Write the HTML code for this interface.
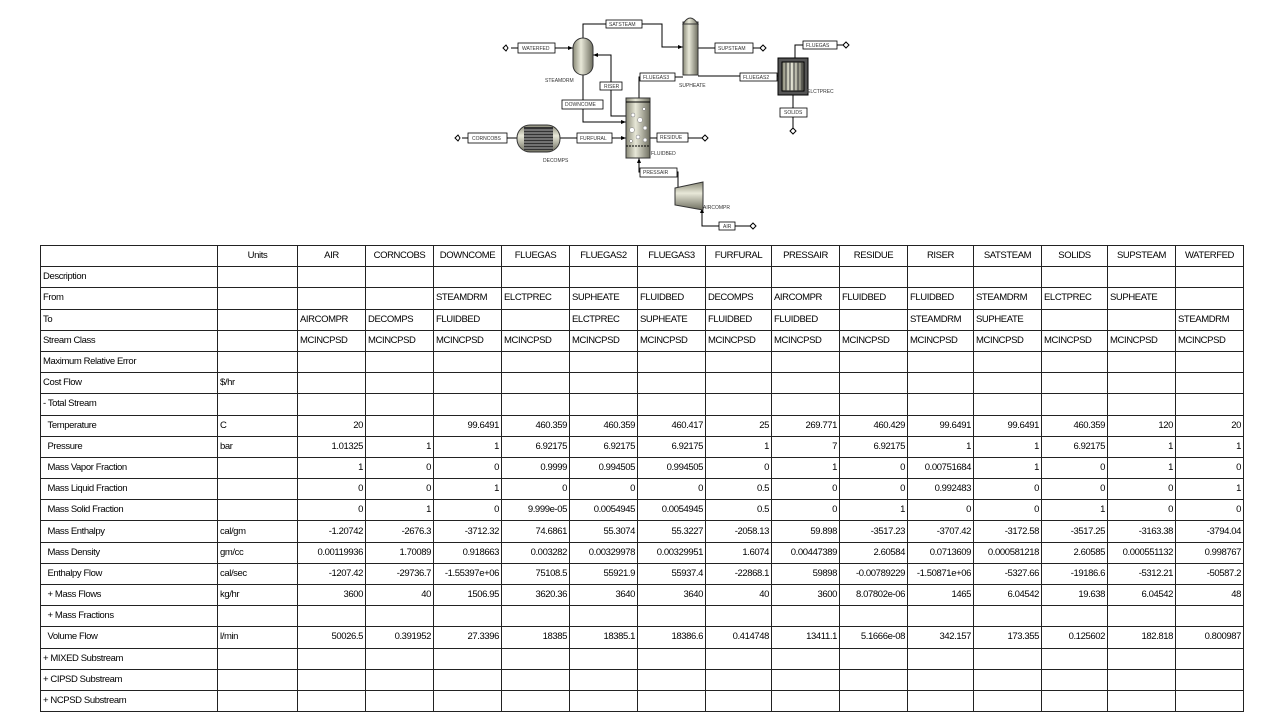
<!DOCTYPE html>
<html><head><meta charset="utf-8"><style>
body{margin:0;width:1280px;height:720px;background:#fff;position:relative;overflow:hidden;font-family:"Liberation Sans",sans-serif}
svg{position:absolute;left:0;top:0}
svg text{font-family:"Liberation Sans",sans-serif;font-size:5px;fill:#333}
table{position:absolute;left:40px;top:245px;border-collapse:collapse;table-layout:fixed;font-size:9.5px;letter-spacing:-0.4px;color:#000}
td{border:1px solid #222;height:20.2px;padding:0 2px;white-space:nowrap;overflow:hidden;line-height:10px}
td.n{text-align:right}
tr.h td{text-align:center}
</style></head><body>
<svg width="1280" height="240" viewBox="0 0 1280 240">
<defs>
<linearGradient id="g" x1="0" x2="1"><stop offset="0" stop-color="#8a8a78"/><stop offset=".4" stop-color="#e8e8d8"/><stop offset="1" stop-color="#6e6e60"/></linearGradient>
<linearGradient id="gv" x1="0" y1="0" x2="0" y2="1"><stop offset="0" stop-color="#8a8a78"/><stop offset=".4" stop-color="#e8e8d8"/><stop offset="1" stop-color="#6e6e60"/></linearGradient>
</defs>
<g stroke="#000" stroke-width="1" fill="none">
<polyline points="583,38 583,24 662,24 662,47 683,47"/>
<polyline points="511,48 573,48"/>
<polyline points="698,48 760,48"/>
<polyline points="795,58 795,45 843,45"/>
<polyline points="778,76 698,76"/>
<polyline points="639,98 639,77 683,77"/>
<polyline points="626,116 611,116 611,55 593,55"/>
<polyline points="583,75 583,122 626,122"/>
<polyline points="462,138 517,138"/>
<polyline points="560,138 626,138"/>
<polyline points="650,138 702,138"/>
<polyline points="639,158 639,172 678,172 678,187"/>
<polyline points="702,208 702,226 750,226"/>
<polyline points="793,95 793,128"/>
</g>
<g fill="#000">
<polygon points="573,48 568,46 568,50"/><polygon points="683,47 678,45 678,49"/>
<polygon points="593,55 598,53 598,57"/><polygon points="626,122 621,120 621,124"/>
<polygon points="626,138 621,136 621,140"/><polygon points="639,158 637,163 641,163"/>
<polygon points="702,208 700,213 704,213"/>
</g>
<!-- icons -->
<g fill="#fff" stroke="#000" stroke-width="1">
<polygon points="503,48 506,45 508,48 506,51"/><polygon points="760,48 763,45 766,48 763,51"/>
<polygon points="843,45 846,42 849,45 846,48"/><polygon points="455,138 458,135 460,138 458,141"/>
<polygon points="702,138 705,135 708,138 705,141"/><polygon points="750,226 753,223 756,226 753,229"/>
<polygon points="793,128 796,131 793,134 790,131"/>
</g>
<!-- equipment -->
<rect x="573" y="38" width="20" height="37" rx="10" fill="url(#g)" stroke="#333"/>
<rect x="683" y="22" width="15" height="53" fill="url(#g)" stroke="#333"/>
<path d="M683,24 Q690,12 698,24Z" fill="url(#g)" stroke="#333"/>
<rect x="778" y="58" width="30" height="37" fill="#555" stroke="#000"/>
<rect x="782" y="62" width="22" height="29" fill="url(#g)" stroke="#000"/>
<g stroke="#333"><line x1="786" y1="62" x2="786" y2="91"/><line x1="790" y1="62" x2="790" y2="91"/><line x1="794" y1="62" x2="794" y2="91"/><line x1="798" y1="62" x2="798" y2="91"/><line x1="802" y1="62" x2="802" y2="91"/></g>
<rect x="626" y="98" width="24" height="60" fill="url(#g)" stroke="#333"/>
<line x1="626" y1="102" x2="650" y2="102" stroke="#000"/>
<line x1="626" y1="146" x2="650" y2="146" stroke="#000" stroke-dasharray="2,1"/>
<g fill="#fff" stroke="#777" stroke-width=".5"><circle cx="633" cy="115" r="2"/><circle cx="640" cy="120" r="2.5"/><circle cx="645" cy="128" r="2"/><circle cx="632" cy="130" r="2.5"/><circle cx="638" cy="137" r="2"/><circle cx="645" cy="140" r="2"/><circle cx="631" cy="141" r="1.5"/><circle cx="644" cy="109" r="1.5"/></g>
<rect x="517" y="125" width="43" height="27" rx="13" fill="url(#gv)" stroke="#333"/>
<rect x="524" y="127" width="29" height="23" fill="#333"/>
<g stroke="#ddd" stroke-width=".8"><line x1="524" y1="130" x2="553" y2="130"/><line x1="524" y1="133" x2="553" y2="133"/><line x1="524" y1="136" x2="553" y2="136"/><line x1="524" y1="139" x2="553" y2="139"/><line x1="524" y1="142" x2="553" y2="142"/><line x1="524" y1="145" x2="553" y2="145"/><line x1="524" y1="148" x2="553" y2="148"/></g>
<polygon points="675,188 703,182 703,210 675,205" fill="url(#gv)" stroke="#333"/>
<!-- labels -->
<g fill="#fff" stroke="#000" stroke-width=".8">
<rect x="606" y="20" width="36" height="8"/><rect x="518" y="43" width="37" height="10"/>
<rect x="715" y="43" width="38" height="10"/><rect x="803" y="41" width="34" height="8"/>
<rect x="740" y="73" width="37" height="8"/><rect x="640" y="73" width="35" height="8"/>
<rect x="600" y="82" width="22" height="8"/><rect x="562" y="100" width="41" height="9"/>
<rect x="468" y="133" width="39" height="10"/><rect x="577" y="133" width="35" height="10"/>
<rect x="657" y="133" width="31" height="9"/><rect x="640" y="168" width="37" height="9"/>
<rect x="719" y="222" width="16" height="8"/><rect x="780" y="108" width="27" height="9"/>
</g>
<text x="609" y="26">SATSTEAM</text><text x="522" y="50">WATERFED</text>
<text x="718" y="50">SUPSTEAM</text><text x="806" y="47">FLUEGAS</text>
<text x="743" y="79">FLUEGAS2</text><text x="643" y="79">FLUEGAS3</text>
<text x="604" y="88">RISER</text><text x="565" y="106">DOWNCOME</text>
<text x="472" y="140">CORNCOBS</text><text x="580" y="140">FURFURAL</text>
<text x="660" y="139">RESIDUE</text><text x="643" y="174">PRESSAIR</text>
<text x="723" y="228">AIR</text><text x="784" y="114">SOLIDS</text>
<text x="545" y="82">STEAMDRM</text><text x="679" y="87">SUPHEATE</text>
<text x="807" y="93">ELCTPREC</text><text x="651" y="155">FLUIDBED</text>
<text x="543" y="162">DECOMPS</text><text x="703" y="209">AIRCOMPR</text>
</svg>
<table>
<colgroup><col style="width:177px"><col style="width:80px"><col style="width:68px"><col style="width:68px"><col style="width:68px"><col style="width:68px"><col style="width:68px"><col style="width:68px"><col style="width:66px"><col style="width:68px"><col style="width:68px"><col style="width:66px"><col style="width:68px"><col style="width:66px"><col style="width:68px"><col style="width:68px"></colgroup>
<tr class="h"><td></td><td>Units</td><td>AIR</td><td>CORNCOBS</td><td>DOWNCOME</td><td>FLUEGAS</td><td>FLUEGAS2</td><td>FLUEGAS3</td><td>FURFURAL</td><td>PRESSAIR</td><td>RESIDUE</td><td>RISER</td><td>SATSTEAM</td><td>SOLIDS</td><td>SUPSTEAM</td><td>WATERFED</td></tr>
<tr><td>Description</td><td></td><td></td><td></td><td></td><td></td><td></td><td></td><td></td><td></td><td></td><td></td><td></td><td></td><td></td><td></td></tr>
<tr><td>From</td><td></td><td></td><td></td><td>STEAMDRM</td><td>ELCTPREC</td><td>SUPHEATE</td><td>FLUIDBED</td><td>DECOMPS</td><td>AIRCOMPR</td><td>FLUIDBED</td><td>FLUIDBED</td><td>STEAMDRM</td><td>ELCTPREC</td><td>SUPHEATE</td><td></td></tr>
<tr><td>To</td><td></td><td>AIRCOMPR</td><td>DECOMPS</td><td>FLUIDBED</td><td></td><td>ELCTPREC</td><td>SUPHEATE</td><td>FLUIDBED</td><td>FLUIDBED</td><td></td><td>STEAMDRM</td><td>SUPHEATE</td><td></td><td></td><td>STEAMDRM</td></tr>
<tr><td>Stream Class</td><td></td><td>MCINCPSD</td><td>MCINCPSD</td><td>MCINCPSD</td><td>MCINCPSD</td><td>MCINCPSD</td><td>MCINCPSD</td><td>MCINCPSD</td><td>MCINCPSD</td><td>MCINCPSD</td><td>MCINCPSD</td><td>MCINCPSD</td><td>MCINCPSD</td><td>MCINCPSD</td><td>MCINCPSD</td></tr>
<tr><td>Maximum Relative Error</td><td></td><td></td><td></td><td></td><td></td><td></td><td></td><td></td><td></td><td></td><td></td><td></td><td></td><td></td><td></td></tr>
<tr><td>Cost Flow</td><td>$/hr</td><td></td><td></td><td></td><td></td><td></td><td></td><td></td><td></td><td></td><td></td><td></td><td></td><td></td><td></td></tr>
<tr><td>- Total Stream</td><td></td><td></td><td></td><td></td><td></td><td></td><td></td><td></td><td></td><td></td><td></td><td></td><td></td><td></td><td></td></tr>
<tr><td>&nbsp;&nbsp;Temperature</td><td>C</td><td class="n">20</td><td class="n"></td><td class="n">99.6491</td><td class="n">460.359</td><td class="n">460.359</td><td class="n">460.417</td><td class="n">25</td><td class="n">269.771</td><td class="n">460.429</td><td class="n">99.6491</td><td class="n">99.6491</td><td class="n">460.359</td><td class="n">120</td><td class="n">20</td></tr>
<tr><td>&nbsp;&nbsp;Pressure</td><td>bar</td><td class="n">1.01325</td><td class="n">1</td><td class="n">1</td><td class="n">6.92175</td><td class="n">6.92175</td><td class="n">6.92175</td><td class="n">1</td><td class="n">7</td><td class="n">6.92175</td><td class="n">1</td><td class="n">1</td><td class="n">6.92175</td><td class="n">1</td><td class="n">1</td></tr>
<tr><td>&nbsp;&nbsp;Mass Vapor Fraction</td><td></td><td class="n">1</td><td class="n">0</td><td class="n">0</td><td class="n">0.9999</td><td class="n">0.994505</td><td class="n">0.994505</td><td class="n">0</td><td class="n">1</td><td class="n">0</td><td class="n">0.00751684</td><td class="n">1</td><td class="n">0</td><td class="n">1</td><td class="n">0</td></tr>
<tr><td>&nbsp;&nbsp;Mass Liquid Fraction</td><td></td><td class="n">0</td><td class="n">0</td><td class="n">1</td><td class="n">0</td><td class="n">0</td><td class="n">0</td><td class="n">0.5</td><td class="n">0</td><td class="n">0</td><td class="n">0.992483</td><td class="n">0</td><td class="n">0</td><td class="n">0</td><td class="n">1</td></tr>
<tr><td>&nbsp;&nbsp;Mass Solid Fraction</td><td></td><td class="n">0</td><td class="n">1</td><td class="n">0</td><td class="n">9.999e-05</td><td class="n">0.0054945</td><td class="n">0.0054945</td><td class="n">0.5</td><td class="n">0</td><td class="n">1</td><td class="n">0</td><td class="n">0</td><td class="n">1</td><td class="n">0</td><td class="n">0</td></tr>
<tr><td>&nbsp;&nbsp;Mass Enthalpy</td><td>cal/gm</td><td class="n">-1.20742</td><td class="n">-2676.3</td><td class="n">-3712.32</td><td class="n">74.6861</td><td class="n">55.3074</td><td class="n">55.3227</td><td class="n">-2058.13</td><td class="n">59.898</td><td class="n">-3517.23</td><td class="n">-3707.42</td><td class="n">-3172.58</td><td class="n">-3517.25</td><td class="n">-3163.38</td><td class="n">-3794.04</td></tr>
<tr><td>&nbsp;&nbsp;Mass Density</td><td>gm/cc</td><td class="n">0.00119936</td><td class="n">1.70089</td><td class="n">0.918663</td><td class="n">0.003282</td><td class="n">0.00329978</td><td class="n">0.00329951</td><td class="n">1.6074</td><td class="n">0.00447389</td><td class="n">2.60584</td><td class="n">0.0713609</td><td class="n">0.000581218</td><td class="n">2.60585</td><td class="n">0.000551132</td><td class="n">0.998767</td></tr>
<tr><td>&nbsp;&nbsp;Enthalpy Flow</td><td>cal/sec</td><td class="n">-1207.42</td><td class="n">-29736.7</td><td class="n">-1.55397e+06</td><td class="n">75108.5</td><td class="n">55921.9</td><td class="n">55937.4</td><td class="n">-22868.1</td><td class="n">59898</td><td class="n">-0.00789229</td><td class="n">-1.50871e+06</td><td class="n">-5327.66</td><td class="n">-19186.6</td><td class="n">-5312.21</td><td class="n">-50587.2</td></tr>
<tr><td>&nbsp;&nbsp;+ Mass Flows</td><td>kg/hr</td><td class="n">3600</td><td class="n">40</td><td class="n">1506.95</td><td class="n">3620.36</td><td class="n">3640</td><td class="n">3640</td><td class="n">40</td><td class="n">3600</td><td class="n">8.07802e-06</td><td class="n">1465</td><td class="n">6.04542</td><td class="n">19.638</td><td class="n">6.04542</td><td class="n">48</td></tr>
<tr><td>&nbsp;&nbsp;+ Mass Fractions</td><td></td><td></td><td></td><td></td><td></td><td></td><td></td><td></td><td></td><td></td><td></td><td></td><td></td><td></td><td></td></tr>
<tr><td>&nbsp;&nbsp;Volume Flow</td><td>l/min</td><td class="n">50026.5</td><td class="n">0.391952</td><td class="n">27.3396</td><td class="n">18385</td><td class="n">18385.1</td><td class="n">18386.6</td><td class="n">0.414748</td><td class="n">13411.1</td><td class="n">5.1666e-08</td><td class="n">342.157</td><td class="n">173.355</td><td class="n">0.125602</td><td class="n">182.818</td><td class="n">0.800987</td></tr>
<tr><td>+ MIXED Substream</td><td></td><td></td><td></td><td></td><td></td><td></td><td></td><td></td><td></td><td></td><td></td><td></td><td></td><td></td><td></td></tr>
<tr><td>+ CIPSD Substream</td><td></td><td></td><td></td><td></td><td></td><td></td><td></td><td></td><td></td><td></td><td></td><td></td><td></td><td></td><td></td></tr>
<tr><td>+ NCPSD Substream</td><td></td><td></td><td></td><td></td><td></td><td></td><td></td><td></td><td></td><td></td><td></td><td></td><td></td><td></td><td></td></tr>
</table>
</body></html>
